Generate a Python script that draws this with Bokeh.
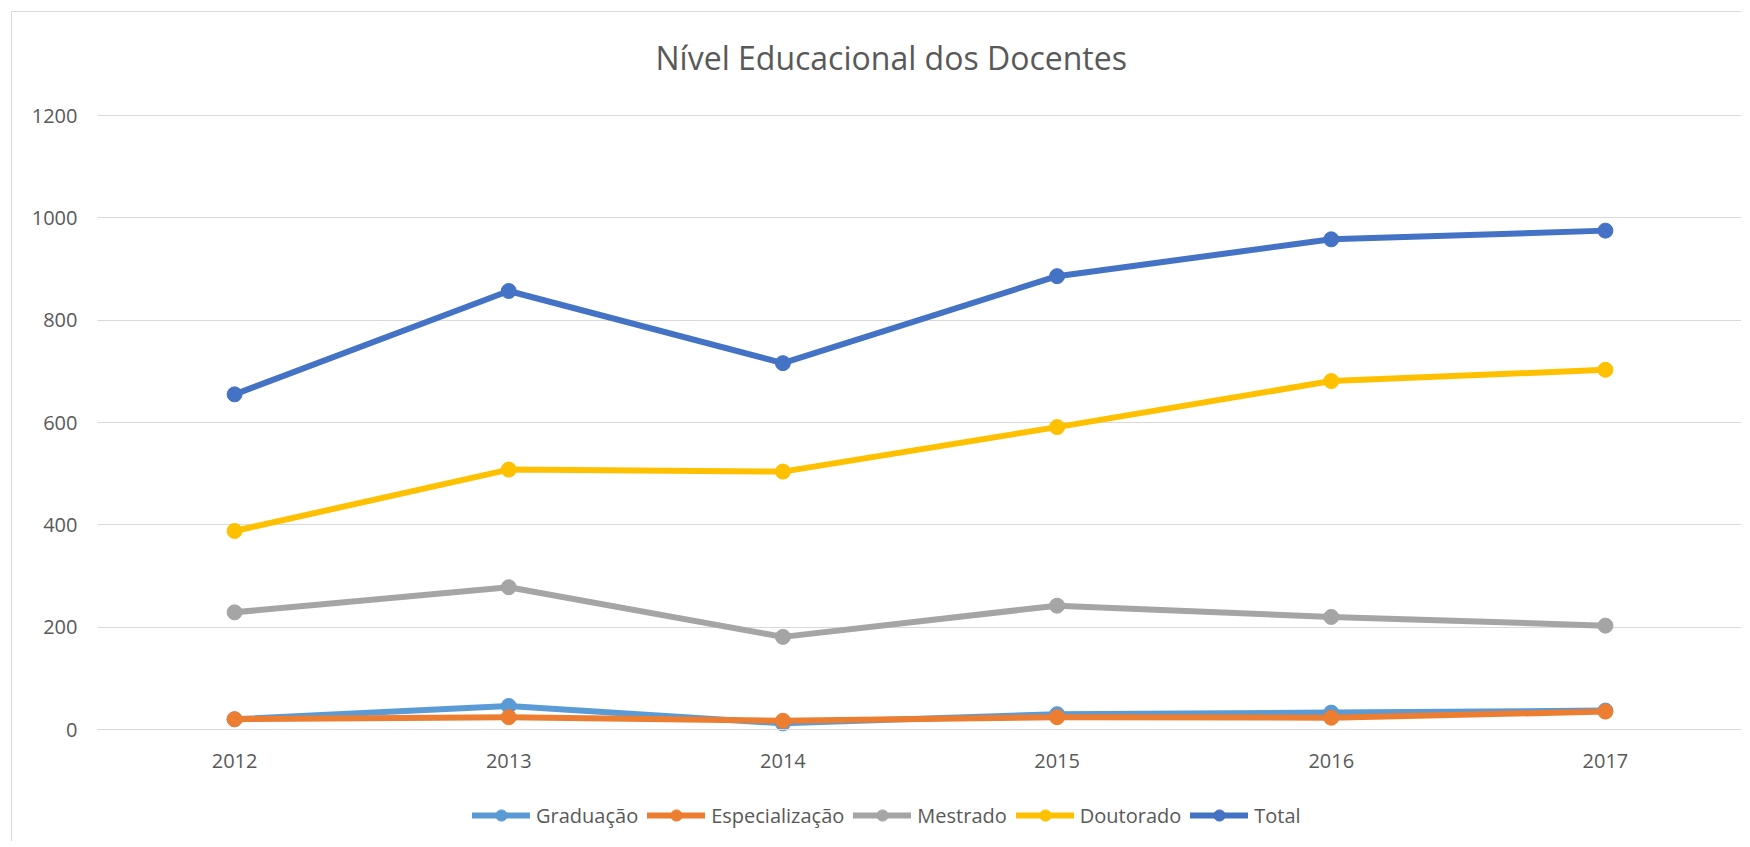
from bokeh.plotting import figure
from bokeh.models import FactorRange, Range1d, Legend, LegendItem, FixedTicker, Label
from bokeh.embed import file_html
from bokeh.resources import INLINE

# ---- data ----
years = ["2012", "2013", "2014", "2015", "2016", "2017"]
graduacao = [20, 46, 12, 30, 33, 37]
especializacao = [20, 24, 17, 24, 23, 35]
mestrado = [229, 278, 181, 242, 220, 203]
doutorado = [388, 508, 504, 591, 681, 703]
total = [655, 857, 716, 886, 958, 975]

series_names = ["Graduação", "Especialização", "Mestrado", "Doutorado", "Total"]
series_values = [graduacao, especializacao, mestrado, doutorado, total]
colors = ["#5B9BD5", "#ED7D31", "#A5A5A5", "#FFC000", "#4472C4"]
y_ticks = [0, 200, 400, 600, 800, 1000, 1200]
title_text = "Nível Educacional dos Docentes"

FONT = "Open Sans"
TXT = "#595959"
GRID = "#D9D9D9"

# ---- layout (pixels, canvas coordinates) ----
W, H = 1730, 830
LEFT = 85                 # plot area left edge
Y_TOP_PX, Y_ZERO_PX = 103, 717   # pixel rows of the top tick and of zero
px_per_unit = (Y_ZERO_PX - Y_TOP_PX) / (y_ticks[-1] - y_ticks[0])
y_start = y_ticks[0] - (H - Y_ZERO_PX) / px_per_unit
y_end = y_ticks[-1] + Y_TOP_PX / px_per_unit

p = figure(
    width=W, height=H,
    x_range=FactorRange(*years, range_padding=0),
    y_range=Range1d(y_start, y_end),
    output_backend="svg", toolbar_location=None,
    min_border_left=LEFT, min_border_right=0,
    min_border_top=0, min_border_bottom=0,
)
p.styles = {"margin-left": "11px", "margin-top": "11px",
            "border-left": "1px solid #D9D9D9", "border-top": "1px solid #D9D9D9"}
p.title.text = ""

p.outline_line_color = None
p.xgrid.grid_line_color = None
p.ygrid.grid_line_color = GRID
p.ygrid.grid_line_width = 1

p.yaxis.ticker = FixedTicker(ticks=y_ticks)
p.yaxis.axis_line_color = None
p.xaxis.fixed_location = 0
p.xaxis.axis_line_color = GRID
for ax in (p.xaxis, p.yaxis):
    ax.major_tick_line_color = None
    ax.minor_tick_line_color = None
    ax.major_tick_out = 0
    ax.major_tick_in = 0
    ax.major_label_text_font = FONT
    ax.major_label_text_font_size = "20px"
    ax.major_label_text_color = TXT
p.yaxis.major_label_standoff = 20
p.xaxis.major_label_standoff = 24

# title
p.add_layout(Label(
    x=558, y=H - 45, x_units="screen", y_units="screen", text=title_text,
    text_font=FONT, text_font_size="32px", text_color=TXT,
    text_baseline="alphabetic", text_align="left",
))

items = []
for name, vals, col in zip(series_names, series_values, colors):
    ln = p.line(x=years, y=vals, line_color=col, line_width=6, line_join="round", line_cap="round")
    sc = p.scatter(x=years, y=vals, marker="circle", size=15, fill_color=col, line_color=col)
    items.append(LegendItem(label=name, renderers=[ln, sc]))

legend = Legend(
    items=items, orientation="horizontal", location=(375, 13),
    glyph_width=58, glyph_height=28, label_standoff=6, spacing=9,
    padding=0, margin=0, border_line_color=None, background_fill_alpha=0,
    label_text_font=FONT, label_text_font_size="20px", label_text_color=TXT,
)
p.add_layout(legend)

open("out.html", "w").write(file_html(p, INLINE))
